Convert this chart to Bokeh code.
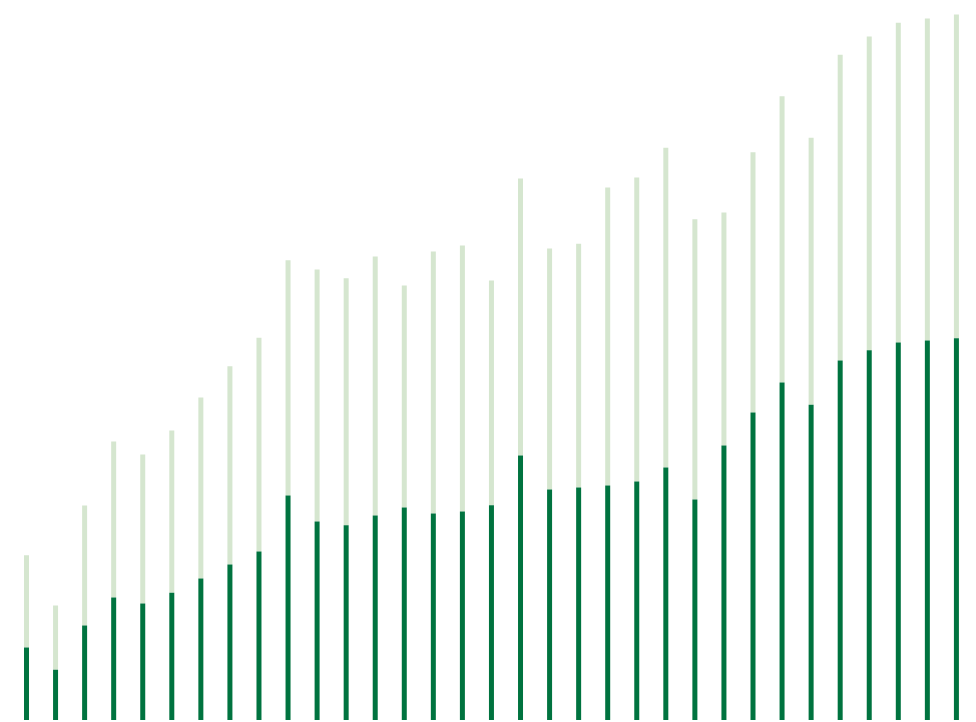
from bokeh.plotting import figure
from bokeh.models import Range1d, ColumnDataSource
from bokeh.embed import file_html
from bokeh.resources import INLINE

# category index (33 periods)
periods = list(range(33))

# lower (dark) segment values
dark_values = [73, 50.7, 95, 123, 117, 127.7, 142, 156, 169, 225, 199, 195.3, 205, 213,
               207, 209, 215.3, 265, 231, 233, 235, 239, 253, 221, 275, 308, 338, 315.7,
               360, 370.3, 378, 380, 382.3]

# total (dark + light) values
total_values = [165.3, 115, 215, 279, 266, 290, 323, 354.3, 382.7, 460.3, 451, 442.3, 464,
                435, 469, 475, 440, 542, 472, 476.7, 533, 543, 572.7, 501.3, 508, 568.3,
                624.3, 582.7, 665.7, 684, 697.7, 702, 706]

src = ColumnDataSource(dict(x=periods, dark=dark_values, total=total_values,
                            zero=[0] * len(periods)))

W, H = 968, 720
px_per_unit = 29.06
x_start = -26.0 / px_per_unit
x_end = x_start + W / px_per_unit

p = figure(width=W, height=H, output_backend="svg", toolbar_location=None,
           x_range=Range1d(x_start, x_end), y_range=Range1d(0, H),
           min_border=0, min_border_left=0, min_border_right=0,
           min_border_top=0, min_border_bottom=0)

p.vbar(x="x", bottom="dark", top="total", width=0.172, source=src,
       fill_color="#d5e6cf", line_color=None)
p.vbar(x="x", bottom="zero", top="dark", width=0.172, source=src,
       fill_color="#00733f", line_color=None)

p.axis.visible = False
p.xgrid.visible = False
p.ygrid.visible = False
p.outline_line_color = None
p.background_fill_color = "white"
p.border_fill_color = "white"

open("out.html", "w").write(file_html(p, INLINE))
